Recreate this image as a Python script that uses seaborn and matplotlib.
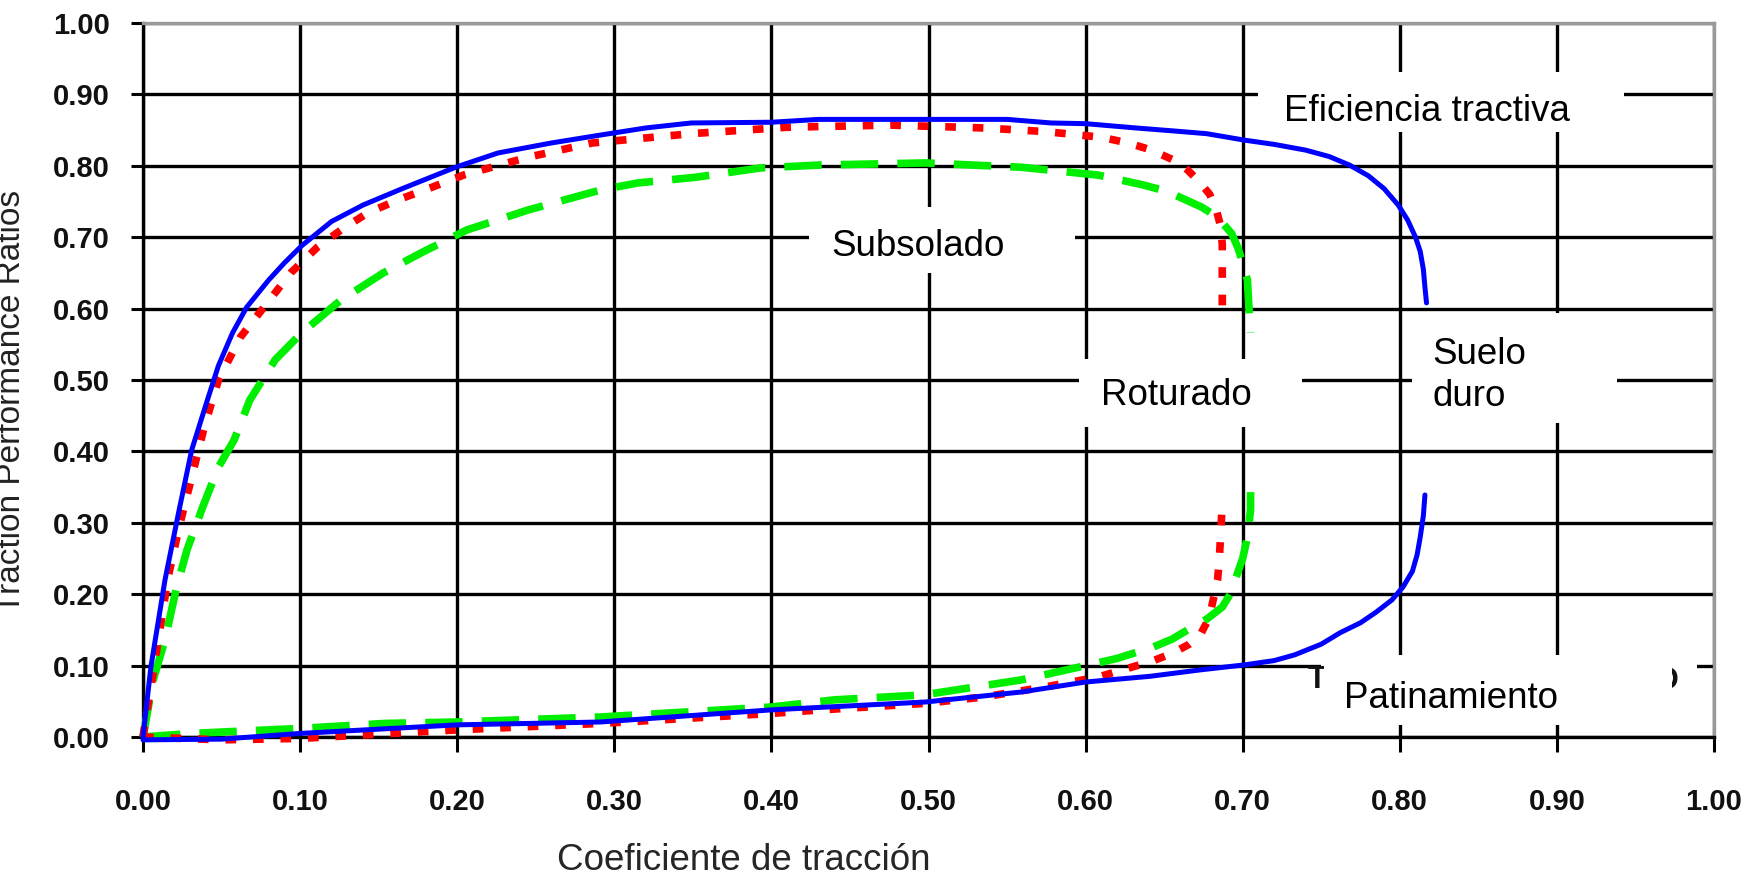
import matplotlib
matplotlib.use("Agg")
import matplotlib.pyplot as plt
from matplotlib import font_manager
from matplotlib.patches import Rectangle
import seaborn as sns

# Suelo duro (blue, solid)
duro_eff_x = [0.0, 0.005, 0.014, 0.023, 0.031, 0.041, 0.048, 0.057, 0.066, 0.080, 0.090, 0.101, 0.120, 0.140,
              0.165, 0.199, 0.226, 0.260, 0.291, 0.320, 0.349, 0.400, 0.430, 0.550, 0.578, 0.600, 0.632, 0.655,
              0.677, 0.701, 0.720, 0.740, 0.755, 0.768, 0.780, 0.790, 0.799, 0.805, 0.810, 0.813, 0.815, 0.816,
              0.817]
duro_eff_y = [0.0, 0.098, 0.220, 0.318, 0.402, 0.472, 0.520, 0.566, 0.602, 0.640, 0.664, 0.688, 0.722, 0.745,
              0.768, 0.798, 0.818, 0.832, 0.843, 0.853, 0.860, 0.861, 0.865, 0.865, 0.860, 0.859, 0.853, 0.849,
              0.845, 0.836, 0.830, 0.822, 0.813, 0.801, 0.786, 0.768, 0.745, 0.724, 0.700, 0.680, 0.655, 0.630,
              0.608]
duro_slip_x = [0.0, 0.05, 0.10, 0.20, 0.291, 0.40, 0.498, 0.559, 0.60, 0.641, 0.673, 0.701, 0.720, 0.733, 0.750,
               0.762, 0.775, 0.785, 0.795, 0.802, 0.808, 0.811, 0.813, 0.815, 0.816]
duro_slip_y = [-0.004, -0.003, 0.005, 0.017, 0.021, 0.038, 0.049, 0.063, 0.077, 0.085, 0.094, 0.101, 0.107, 0.115,
               0.130, 0.146, 0.160, 0.175, 0.192, 0.210, 0.232, 0.255, 0.280, 0.310, 0.339]

# Roturado (red, dotted)
rot_eff_x = [0.0, 0.005, 0.016, 0.023, 0.031, 0.039, 0.048, 0.062, 0.077, 0.094, 0.111, 0.126, 0.143, 0.162,
             0.184, 0.204, 0.245, 0.286, 0.349, 0.410, 0.476, 0.535, 0.574, 0.610, 0.627, 0.642, 0.656, 0.665,
             0.673, 0.679, 0.683, 0.686, 0.687, 0.687]
rot_eff_y = [0.0, 0.070, 0.224, 0.294, 0.364, 0.434, 0.500, 0.560, 0.602, 0.650, 0.686, 0.710, 0.734, 0.752,
             0.770, 0.787, 0.812, 0.832, 0.845, 0.854, 0.857, 0.853, 0.848, 0.840, 0.832, 0.822, 0.808, 0.794,
             0.776, 0.760, 0.740, 0.715, 0.690, 0.595]
rot_slip_x = [0.0, 0.05, 0.10, 0.20, 0.291, 0.40, 0.425, 0.497, 0.535, 0.574, 0.608, 0.642, 0.655, 0.666,
              0.673, 0.677, 0.680, 0.682, 0.684, 0.685, 0.686, 0.687]
rot_slip_y = [0.0, -0.004, -0.002, 0.010, 0.019, 0.033, 0.037, 0.047, 0.056, 0.070, 0.084, 0.106, 0.117, 0.130,
              0.143, 0.160, 0.180, 0.200, 0.220, 0.245, 0.285, 0.329]

# Subsolado (green, dashed)
sub_eff_x = [0.0, 0.0065, 0.014, 0.021, 0.028, 0.038, 0.048, 0.058, 0.068, 0.084, 0.101, 0.126, 0.153, 0.177,
             0.206, 0.245, 0.291, 0.315, 0.352, 0.393, 0.430, 0.498, 0.559, 0.608, 0.637, 0.652, 0.664, 0.674,
             0.684, 0.693, 0.697, 0.700, 0.703, 0.704, 0.705]
sub_eff_y = [0.0, 0.080, 0.136, 0.206, 0.262, 0.322, 0.378, 0.416, 0.472, 0.528, 0.566, 0.612, 0.650, 0.678,
             0.710, 0.738, 0.766, 0.776, 0.784, 0.797, 0.801, 0.804, 0.798, 0.787, 0.773, 0.764, 0.752, 0.742,
             0.728, 0.705, 0.685, 0.664, 0.640, 0.600, 0.566]
sub_slip_x = [0.0, 0.031, 0.10, 0.154, 0.20, 0.291, 0.40, 0.44, 0.497, 0.559, 0.594, 0.62, 0.643, 0.655, 0.665,
              0.677, 0.687, 0.692, 0.696, 0.700, 0.703, 0.705, 0.705]
sub_slip_y = [0.0, 0.005, 0.012, 0.019, 0.021, 0.028, 0.042, 0.052, 0.059, 0.080, 0.097, 0.110, 0.126, 0.137,
              0.150, 0.165, 0.182, 0.200, 0.225, 0.250, 0.280, 0.318, 0.343]

ticks = [0.0, 0.1, 0.2, 0.3, 0.4, 0.5, 0.6, 0.7, 0.8, 0.9, 1.0]

sns.set_style("white")
plt.rcParams["font.family"] = ["Liberation Sans", "DejaVu Sans"]

# tick labels in the original are a narrow bold face
installed = {f.name for f in font_manager.fontManager.ttflist}
if "Liberation Sans Narrow" in installed:
    tick_font = dict(family="Liberation Sans Narrow", weight="bold", size=23)
else:
    tick_font = dict(family="Liberation Sans", weight="bold", size=21)

fig = plt.figure(figsize=(17.5, 8.8), dpi=100)
ax = fig.add_axes([143 / 1750, 1 - 737 / 880, (1714 - 143) / 1750, (737 - 23) / 880])

line_kw = dict(sort=False, estimator=None, clip_on=False, zorder=3)
sns.lineplot(x=sub_eff_x, y=sub_eff_y, color="#00ee00", lw=5.5, linestyle=(0, (4.9, 2.5)), ax=ax, **line_kw)
sns.lineplot(x=sub_slip_x, y=sub_slip_y, color="#00ee00", lw=5.5, linestyle=(0, (4.9, 2.5)), ax=ax, **line_kw)
sns.lineplot(x=rot_eff_x, y=rot_eff_y, color="#ff0000", lw=5.5, linestyle=(0, (1.4, 2.2)), ax=ax, **line_kw)
sns.lineplot(x=rot_slip_x, y=rot_slip_y, color="#ff0000", lw=5.5, linestyle=(0, (1.4, 2.2)), ax=ax, **line_kw)
sns.lineplot(x=duro_eff_x, y=duro_eff_y, color="#0000ff", lw=3.6, ax=ax, **line_kw)
sns.lineplot(x=duro_slip_x, y=duro_slip_y, color="#0000ff", lw=3.6, ax=ax, **line_kw)

ax.set_xlim(0, 1)
ax.set_ylim(0, 1)
ax.set_xticks(ticks)
ax.set_yticks(ticks)
ax.set_xticklabels([f"{t:.2f}" for t in ticks], fontdict=tick_font)
ax.set_yticklabels([f"{t:.2f}" for t in ticks], fontdict=tick_font)
ax.grid(True, color="black", lw=2.4)
ax.set_axisbelow(True)
ax.tick_params(axis="both", colors="black", width=2.2, labelcolor="#111111")
ax.tick_params(axis="y", length=8.6, pad=15, left=True)
ax.tick_params(axis="x", length=10.8, pad=26, bottom=True)
for side in ["left", "bottom"]:
    ax.spines[side].set_color("black")
    ax.spines[side].set_linewidth(2.4)
for side in ["top", "right"]:
    ax.spines[side].set_color("#999999")
    ax.spines[side].set_linewidth(2.4)

# white label boxes that hide the grid
boxes = [(0.710, 0.848, 0.233, 0.083),
         (0.424, 0.650, 0.169, 0.092),
         (0.596, 0.434, 0.142, 0.096),
         (0.808, 0.440, 0.130, 0.154),
         (0.750, 0.017, 0.239, 0.098)]
for x0, y0, w, h in boxes:
    ax.add_patch(Rectangle((x0, y0), w, h, facecolor="white", edgecolor="none", zorder=1.5))

# leftovers of an older label under "Patinamiento"
ax.text(0.747, 0.080, "T", fontsize=22, fontweight="bold", color="#111111", ha="center", va="center", zorder=1.6)
ax.text(0.970, 0.078, "O", fontsize=22, fontweight="bold", color="#111111", ha="center", va="center", zorder=1.6)
ax.add_patch(Rectangle((0.752, 0.017), 0.221, 0.098, facecolor="white", edgecolor="none", zorder=1.7))

txt_kw = dict(fontsize=26.5, color="black", zorder=4)
ax.text(0.817, 0.876, "Eficiencia tractiva", ha="center", va="center", **txt_kw)
ax.text(0.493, 0.687, "Subsolado", ha="center", va="center", **txt_kw)
ax.text(0.658, 0.478, "Roturado", ha="center", va="center", **txt_kw)
ax.text(0.821, 0.536, "Suelo", ha="left", va="center", **txt_kw)
ax.text(0.821, 0.477, "duro", ha="left", va="center", **txt_kw)
ax.text(0.8325, 0.054, "Patinamiento", ha="center", va="center", **txt_kw)

fig.text(744 / 1750, 1 - 860 / 880, "Coeficiente de tracción", fontsize=26.5, ha="center", va="center")
fig.text(12 / 1750, 1 - 401 / 880, "Traction Performance Ratios", fontsize=24, color="#222222",
         rotation=90, ha="center", va="center")

fig.savefig("out.png", dpi=100)
